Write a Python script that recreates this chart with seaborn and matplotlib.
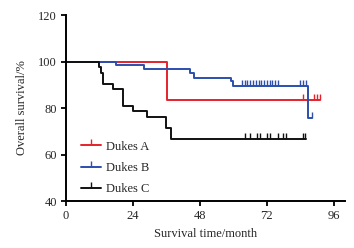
import matplotlib
matplotlib.use("Agg")
import matplotlib.pyplot as plt
import matplotlib.lines as mlines
import numpy as np
import pandas as pd
import seaborn as sns

# Kaplan-Meier step values (time in months, survival %)
A_TIME = [0, 36.2, 91]
A_SURV = [100, 83.3, 83.3]
A_CENS = [85, 89, 90, 91]
A_CENS_Y = [83.3, 83.3, 83.3, 83.3]

B_TIME = [0, 18, 28, 44.5, 46, 59.3, 60, 86.8, 88]
B_SURV = [100, 98.5, 96.8, 95.0, 93.0, 91.5, 89.5, 75.5, 75.5]
B_CENS = [63, 64, 65, 66, 67, 68, 69, 70, 71, 72, 73, 74, 75, 76, 84, 85, 86, 88]
B_CENS_Y = [89.5] * 17 + [75.5]

C_TIME = [0, 12, 12.6, 13.4, 17, 20.3, 24, 29, 36, 37.5, 86]
C_SURV = [100, 97.6, 95.2, 90.5, 88.1, 81.0, 78.6, 76.2, 71.4, 66.7, 66.7]
C_CENS = [64, 66, 68.4, 69.5, 72, 73, 76, 77.8, 79, 85, 85.6]
C_CENS_Y = [66.7] * 11

GROUPS = ["Dukes A", "Dukes B", "Dukes C"]
COLORS = ["#e5222b", "#2c4fae", "#111111"]

X_TICKS = [0, 24, 48, 72, 96]
Y_TICKS = [40, 60, 80, 100, 120]


def main():
    sns.set_style("ticks")
    plt.rcParams["font.family"] = ["Liberation Serif", "DejaVu Serif"]

    fig = plt.figure(figsize=(3.54, 2.48), dpi=100)
    ax = fig.add_axes([0.1864, 0.1895, 0.7882, 0.75])

    series = [
        (A_TIME, A_SURV, A_CENS, A_CENS_Y),
        (B_TIME, B_SURV, B_CENS, B_CENS_Y),
        (C_TIME, C_SURV, C_CENS, C_CENS_Y),
    ]
    handles = []
    for name, color, (t, s, ct, cy) in zip(GROUPS, COLORS, series):
        df = pd.DataFrame({"t": t, "s": s})
        sns.lineplot(data=df, x="t", y="s", ax=ax, color=color,
                     drawstyle="steps-post", linewidth=1.4, estimator=None,
                     sort=False)
        # censor ticks pointing up from the curve
        ax.plot(ct, cy, linestyle="None", marker=2, color=color,
                markersize=4, markeredgewidth=1.0)
        handles.append(mlines.Line2D([], [], color=color, marker=2,
                                     markersize=4, linewidth=1.4,
                                     label=name))

    ax.set_xlim(0, 100)
    ax.set_ylim(40, 120)
    ax.set_xticks(X_TICKS)
    ax.set_yticks(Y_TICKS)
    ax.set_xlabel("Survival time/month", fontsize=9, labelpad=4)
    ax.set_ylabel("Overall survival/%", fontsize=9, labelpad=7)
    ax.tick_params(labelsize=9, width=1.3, length=3.5, color="black",
                   direction="out", pad=3)
    for side in ["left", "bottom"]:
        ax.spines[side].set_linewidth(1.4)
        ax.spines[side].set_color("black")
    sns.despine(ax=ax)

    ax.legend(handles=handles, loc="lower left",
              bbox_to_anchor=(0.015, -0.03), frameon=False, fontsize=9,
              handlelength=1.6, handletextpad=0.4, labelspacing=0.75)

    fig.savefig("out.png", dpi=100)
    plt.close(fig)


if __name__ == "__main__":
    main()
